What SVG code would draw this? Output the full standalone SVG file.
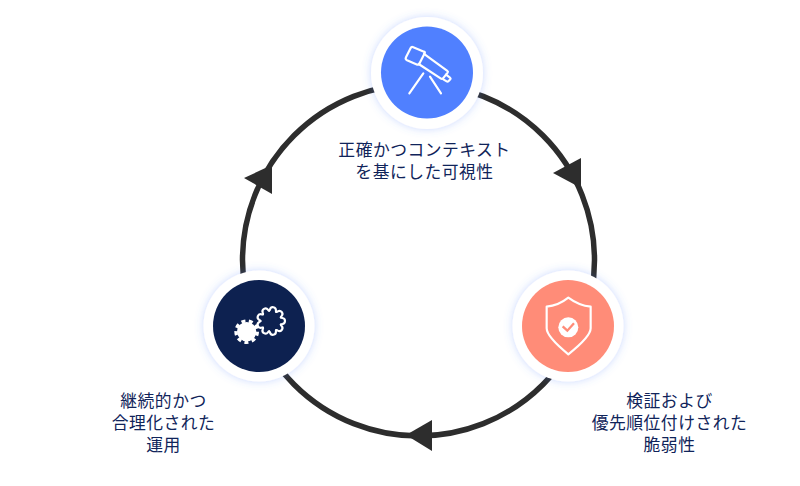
<svg xmlns="http://www.w3.org/2000/svg" width="800" height="486" viewBox="0 0 800 486">
<defs>
<style>
.halo{fill:#fff;filter:url(#glow)}
.ic{fill:none;stroke:#fff;stroke-width:6.500;stroke-linecap:round;stroke-linejoin:round}
.lbl{font-family:"Noto Sans CJK JP","Noto Sans",sans-serif;font-size:16.800px;font-weight:400;letter-spacing:.5px;fill:#10245a;text-anchor:middle}
</style>
<filter id="glow" x="-30%" y="-30%" width="160%" height="160%"><feDropShadow dx="0" dy="0" stdDeviation="4" flood-color="#5080ff" flood-opacity="0.3"/></filter>
<path id="tooth" d="M29.600-10.800Q31-9 34-9 42-8 42 0 42 8 34 9 31 9 29.600 10.800"/>
</defs>
<rect width="800" height="486" fill="#fff"/>
<g id="connectors">
<circle cx="418.500" cy="260" r="176" fill="none" stroke="#2d2d2d" stroke-width="5.500"/>
<polygon points="244,178 272,165 272,194" fill="#2d2d2d"/>
<polygon points="553,173 581,158 581,188" fill="#2d2d2d"/>
<polygon points="406,435 432,420 432,451" fill="#2d2d2d"/>
</g>
<g id="node-visibility">
<circle class="halo" cx="427" cy="73" r="56"/>
<circle cx="427" cy="72.500" r="46" fill="#5080ff"/>
<g transform="translate(360 10) scale(.3333)" class="ic">
<path d="M158 111Q154 110 152 114L138 142Q135 148 141 151L172 164Q176 165 178 161L194 130Q196 126 192 125Z"/>
<path d="M192 132L262 183Q265 185 263 188L249 205Q246 208 243 206L176 162"/>
<path d="M258 194L270 203Q273 205 271 208L266 213Q263 216 260 214L250 208"/>
<path d="M190 190L148 250M210 200L243 250"/>
</g>
<text class="lbl" x="424.500" y="155.500">正確かつコンテキスト</text>
<text class="lbl" x="424.500" y="177.500">を基にした可視性</text>
</g>
<g id="node-remediation">
<circle class="halo" cx="259" cy="326" r="55.500"/>
<circle cx="259" cy="326" r="46" fill="#0d2150"/>
<g transform="translate(195 265) scale(.3333)">
<g class="ic" transform="translate(228 168)">
<use href="#tooth"/>
<use href="#tooth" transform="rotate(40)"/>
<use href="#tooth" transform="rotate(80)"/>
<use href="#tooth" transform="rotate(120)"/>
<use href="#tooth" transform="rotate(160)"/>
<use href="#tooth" transform="rotate(200)"/>
<use href="#tooth" transform="rotate(240)"/>
<use href="#tooth" transform="rotate(280)"/>
<use href="#tooth" transform="rotate(320)"/>
</g>
<circle cx="155" cy="200" r="29" fill="#fff"/>
<circle cx="155" cy="200" r="32" fill="none" stroke="#fff" stroke-width="10" stroke-dasharray="12 10.340"/>
</g>
<text class="lbl" x="163.500" y="407">継続的かつ</text>
<text class="lbl" x="163.500" y="429">合理化された</text>
<text class="lbl" x="163.500" y="451">運用</text>
</g>
<g id="node-vulnerability">
<circle class="halo" cx="568" cy="326" r="55.500"/>
<circle cx="568" cy="326" r="46" fill="#ff8c78"/>
<g transform="translate(505 265) scale(.3333)">
<path class="ic" d="M190 98Q160 122 125 125V190Q125 215 190 268 257 215 257 190V125Q222 122 190 98Z"/>
<circle cx="190" cy="187" r="30" fill="#fff"/>
<path d="M173 184L187 197 207 175" fill="none" stroke="#ff8c78" stroke-width="7"/>
</g>
<text class="lbl" x="669.500" y="407">検証および</text>
<text class="lbl" x="669.500" y="429">優先順位付けされた</text>
<text class="lbl" x="669.500" y="451">脆弱性</text>
</g>
</svg>
